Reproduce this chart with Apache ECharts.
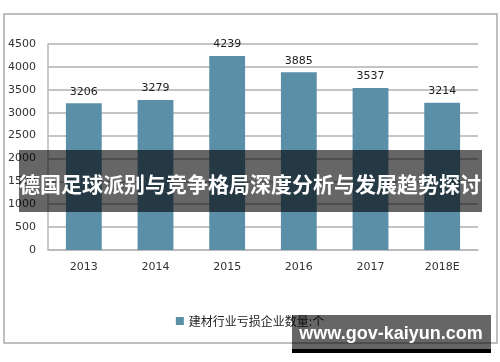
<!DOCTYPE html>
<html>
<head>
<meta charset="utf-8">
<script src="https://cdn.jsdelivr.net/npm/echarts@6/dist/echarts.min.js"></script>
<style>html,body{margin:0;padding:0;background:#fff;}#c{width:500px;height:362px;}</style>
</head>
<body>
<div id="c"></div>
<script>
const categories = ['2013', '2014', '2015', '2016', '2017', '2018E'];
const values = [3206, 3279, 4239, 3885, 3537, 3214];
const seriesName = '建材行业亏损企业数量:个';
const bannerText = '德国足球派别与竞争格局深度分析与发展趋势探讨';
const watermarkText = 'www.gov-kaiyun.com';

const chart = echarts.init(document.getElementById('c'), null, {renderer: 'canvas'});
chart.setOption({
  animation: false,
  backgroundColor: '#fff',
  grid: {left: 48, right: 22, top: 44, bottom: 112, containLabel: false},
  legend: {
    data: [seriesName],
    bottom: 30, left: 'center',
    itemWidth: 8, itemHeight: 8, itemGap: 4,
    icon: 'rect',
    textStyle: {fontSize: 12, color: '#222', fontFamily: 'Noto Sans CJK SC'}
  },
  xAxis: {
    type: 'category', data: categories,
    axisLine: {lineStyle: {color: '#b8b8b8', width: 1.5}},
    axisTick: {show: false},
    axisLabel: {color: '#333', fontSize: 11, fontFamily: 'DejaVu Sans', margin: 12}
  },
  yAxis: {
    type: 'value', min: 0, max: 4500, interval: 500,
    axisLine: {show: true, lineStyle: {color: '#b8b8b8', width: 1.5}},
    axisTick: {show: false},
    axisLabel: {color: '#333', fontSize: 11, fontFamily: 'DejaVu Sans', margin: 12, formatter: v => String(v)},
    splitLine: {lineStyle: {color: '#c4c4c4', width: 2}}
  },
  series: [{
    name: seriesName, type: 'bar', data: values, barWidth: '50%',
    itemStyle: {color: '#5b8fa8'},
    label: {show: true, position: 'top', distance: 6, color: '#222', fontSize: 11, fontFamily: 'DejaVu Sans'}
  }],
  graphic: [
    {type: 'rect', shape: {x: 4, y: 14, width: 493, height: 329}, style: {fill: 'none', stroke: '#aaa', lineWidth: 1.5}, z: 100},
    {type: 'rect', shape: {x: 19, y: 150, width: 463, height: 62}, style: {fill: 'rgba(0,0,0,0.6)'}, z: 200},
    {type: 'text', x: 250, y: 184, style: {text: bannerText, fill: '#fff', font: 'bold 21px "Noto Sans CJK SC"', textAlign: 'center', textVerticalAlign: 'middle'}, z: 201},
    {type: 'rect', shape: {x: 292, y: 315, width: 199, height: 35}, style: {fill: 'rgba(0,0,0,0.6)'}, z: 200},
    {type: 'rect', shape: {x: 292, y: 349, width: 199, height: 4}, style: {fill: '#000'}, z: 200},
    {type: 'text', x: 391, y: 334, style: {text: watermarkText, fill: '#fff', font: 'bold 18px "Liberation Sans"', textAlign: 'center', textVerticalAlign: 'middle'}, z: 201}
  ]
});
</script>
</body>
</html>
